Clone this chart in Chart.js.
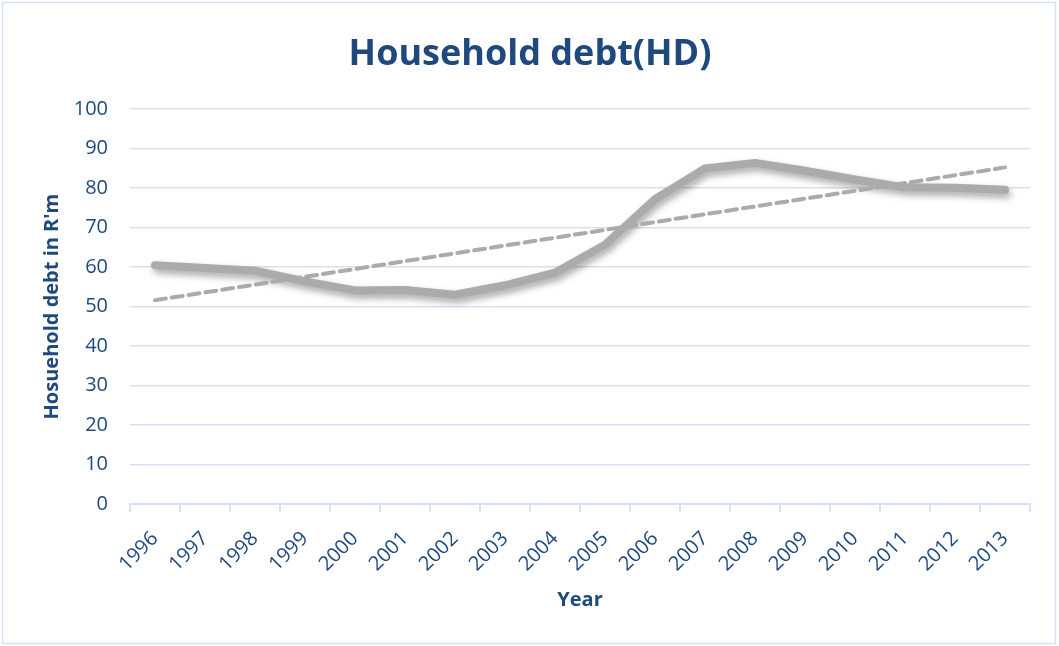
<!DOCTYPE html>
<html>
<head>
<meta charset="utf-8">
<title>Household debt(HD)</title>
<script src="https://cdn.jsdelivr.net/npm/chart.js@4.4.1/dist/chart.umd.min.js"></script>
<style>
  html, body { margin: 0; padding: 0; background: #fff; }
  #wrap { width: 1059px; height: 646px; }
</style>
</head>
<body>
<div id="wrap"><canvas id="myChart" width="1059" height="646"></canvas></div>
<script>
// data
var years = ['1996', '1997', '1998', '1999', '2000', '2001', '2002', '2003', '2004',
             '2005', '2006', '2007', '2008', '2009', '2010', '2011', '2012', '2013'];
var householdDebt = [60.5, 59.8, 59.1, 56.4, 54.1, 54.2, 53.0, 55.4, 58.6,
                     65.7, 77.2, 85.0, 86.4, 84.4, 82.2, 80.2, 80.1, 79.6];
var yTicks = [0, 10, 20, 30, 40, 50, 60, 70, 80, 90, 100];

// linear trend line (least squares, like the spreadsheet's trendline)
var n = householdDebt.length;
var mx = (n - 1) / 2;
var my = householdDebt.reduce(function (a, b) { return a + b; }, 0) / n;
var sxy = 0, sxx = 0;
householdDebt.forEach(function (v, i) { sxy += (i - mx) * (v - my); sxx += (i - mx) * (i - mx); });
var slope = sxy / sxx;
var trend = householdDebt.map(function (v, i) { return my + slope * (i - mx); });

var textColor = '#1F497D';
var gridColor = '#D6E2F3';

// white background + thin outer frame
var frame = {
    id: 'frame',
    beforeDraw: function (chart) {
        var c = chart.ctx;
        c.save();
        c.fillStyle = '#fff';
        c.fillRect(0, 0, chart.width, chart.height);
        c.strokeStyle = gridColor;
        c.lineWidth = 1.5;
        c.strokeRect(2.5, 2.5, chart.width - 6, chart.height - 5);
        c.restore();
    }
};

// soft shadow under the main line
var lineShadow = {
    id: 'lineShadow',
    beforeDatasetDraw: function (chart, args) {
        if (args.index !== 1) return;
        var c = chart.ctx;
        c.save();
        c.shadowColor = 'rgba(0,0,0,0.35)';
        c.shadowBlur = 7;
        c.shadowOffsetX = 2;
        c.shadowOffsetY = 4;
    },
    afterDatasetDraw: function (chart, args) {
        if (args.index !== 1) return;
        chart.ctx.restore();
    }
};

var ctx = document.getElementById('myChart').getContext('2d');
var chart = new Chart(ctx, {
    type: 'line',
    data: {
        labels: years,
        datasets: [{
            label: 'Linear (HD)',
            data: trend,
            borderColor: '#ABABAB',
            borderWidth: 4,
            borderDash: [11, 6],
            borderCapStyle: 'round',
            pointRadius: 0,
            fill: false
        }, {
            label: 'HD',
            data: householdDebt,
            borderColor: '#ABABAB',
            borderWidth: 8,
            borderCapStyle: 'round',
            borderJoinStyle: 'round',
            pointRadius: 0,
            fill: false
        }]
    },
    options: {
        responsive: false,
        animation: false,
        layout: { padding: { left: 30, right: 29, top: 0, bottom: 26 } },
        plugins: {
            legend: { display: false },
            tooltip: { enabled: false },
            title: {
                display: true,
                text: 'Household debt(HD)',
                color: textColor,
                font: { family: 'Open Sans', size: 36, weight: 'bold' },
                padding: { top: 33, bottom: 33 }
            }
        },
        scales: {
            x: {
                offset: true,
                grid: { display: true, drawOnChartArea: false, offset: true, color: gridColor, tickLength: 8, lineWidth: 2 },
                border: { display: true, color: gridColor, width: 2 },
                ticks: {
                    color: textColor,
                    font: { family: 'Open Sans', size: 20 },
                    maxRotation: 45, minRotation: 45,
                    padding: 15,
                    autoSkip: false
                },
                title: {
                    display: true,
                    text: 'Year',
                    color: textColor,
                    font: { family: 'Open Sans', size: 20, weight: 'bold' },
                    padding: { top: 0, bottom: 8 }
                },
                afterFit: function (scale) { scale.height = 116; }
            },
            y: {
                min: 0, max: 100,
                afterBuildTicks: function (scale) {
                    scale.ticks = yTicks.map(function (v) { return { value: v }; });
                },
                grid: { color: gridColor, drawTicks: false, lineWidth: 1.5 },
                border: { display: false },
                ticks: {
                    color: textColor,
                    font: { family: 'Open Sans', size: 20 },
                    padding: 22
                },
                title: {
                    display: true,
                    text: "Hosuehold debt in R'm",
                    color: textColor,
                    font: { family: 'Open Sans', size: 20, weight: 'bold' },
                    padding: { top: 10, bottom: 0 }
                },
                afterFit: function (scale) { scale.width = 100; }
            }
        }
    },
    plugins: [frame, lineShadow]
});
</script>
</body>
</html>
